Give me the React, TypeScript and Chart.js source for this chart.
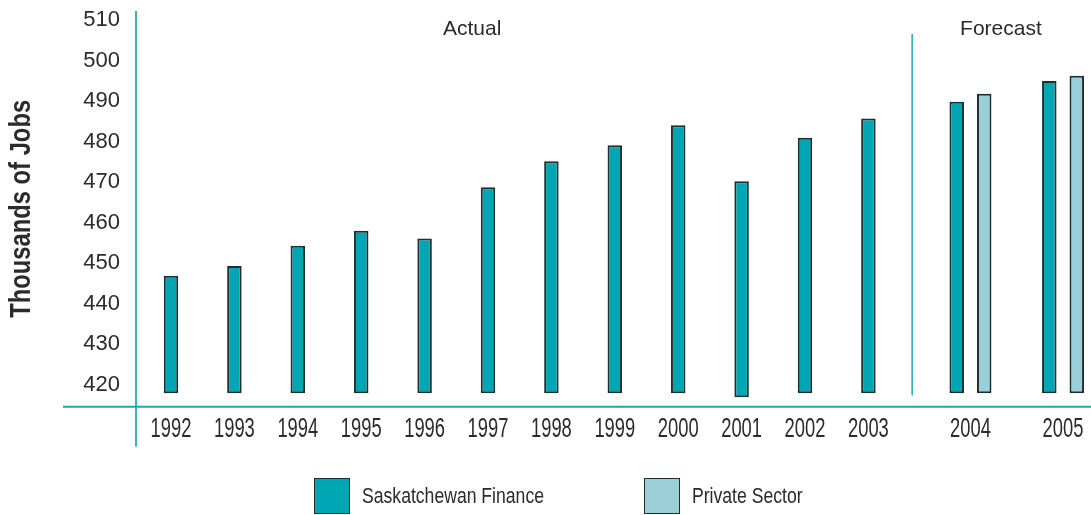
import React, { useEffect, useRef } from "react";
import { Chart, registerables } from "chart.js";

Chart.register(...registerables);

// ---------- data ----------
const years = ["1992", "1993", "1994", "1995", "1996", "1997", "1998", "1999", "2000", "2001", "2002", "2003", "2004", "2005"];
const saskFinance = [446.9, 449.3, 454.3, 458.0, 456.1, 468.7, 475.1, 479.1, 484.0, 470.2, 480.9, 485.7, 489.8, 494.9];
const saskFinanceBase = [417.9, 417.9, 417.9, 417.9, 417.9, 417.9, 417.9, 417.9, 417.9, 416.9, 417.9, 417.9, 417.9, 417.9];
const privateSector = [null, null, null, null, null, null, null, null, null, null, null, null, 491.8, 496.2];
const privateSectorBase = [null, null, null, null, null, null, null, null, null, null, null, null, 417.9, 417.9];
const yTickValues = [420, 430, 440, 450, 460, 470, 480, 490, 500, 510];
const seriesNames = ["Saskatchewan Finance", "Private Sector"];
const periodLabels = ["Actual", "Forecast"];

// ---------- layout (data units on the axes) ----------
const FORECAST_START = 12.61;
const FORECAST_STEP = 1.46;
const slotOf = (i: number) => (i < 12 ? i : FORECAST_START + (i - 12) * FORECAST_STEP);
const SEPARATOR_X = 11.69;
const PERIOD_X = [4.75, 13.09];

const TEAL = "#00A6B3";
const LIGHT = "#9BCFD8";
const EDGE = "#1f2f30";
const AXIS = "#3fb3bd";
const TEXT = "#2b2b2b";
const FONT = "'Liberation Sans', Arial, sans-serif";

// horizontally condense the text a scale draws (the reference uses a condensed face)
function squeeze(scale: any, name: string, factor: number) {
  const key = "__sq_" + name;
  if (scale[key]) return;
  const orig = scale[name];
  scale[name] = function (...args: any[]) {
    const ctx = this.ctx;
    const fill = ctx.fillText;
    ctx.fillText = function (t: string, x: number, y: number, mw?: number) {
      const w = ctx.measureText(t).width * factor;
      return fill.call(ctx, t, x, y, mw === undefined ? w : Math.min(w, mw));
    };
    try {
      return orig.apply(this, args);
    } finally {
      ctx.fillText = fill;
    }
  };
  scale[key] = true;
}

const decorations = {
  id: "decorations",
  afterDatasetsDraw(chart: any) {
    const { ctx, chartArea, scales } = chart;
    const x = scales.x;
    const y = scales.y;
    ctx.save();
    // axis lines
    ctx.strokeStyle = AXIS;
    ctx.lineWidth = 2;
    ctx.beginPath();
    ctx.moveTo(chartArea.left, chartArea.top);
    ctx.lineTo(chartArea.left, chartArea.bottom + 40);
    ctx.stroke();
    ctx.strokeStyle = "#1ea7b2";
    ctx.beginPath();
    ctx.moveTo(chartArea.left - 73, chartArea.bottom);
    ctx.lineTo(chartArea.right, chartArea.bottom);
    ctx.stroke();
    // separator between actual and forecast
    ctx.lineWidth = 1.5;
    const sx = x.getPixelForValue(SEPARATOR_X);
    ctx.beginPath();
    ctx.moveTo(sx, y.getPixelForValue(506.5));
    ctx.lineTo(sx, y.getPixelForValue(417.4));
    ctx.stroke();
    // period labels
    ctx.fillStyle = TEXT;
    ctx.font = `21px ${FONT}`;
    ctx.textAlign = "center";
    ctx.textBaseline = "middle";
    periodLabels.forEach((t, i) => {
      ctx.fillText(t, x.getPixelForValue(PERIOD_X[i]), y.getPixelForValue(507.6));
    });
    ctx.restore();
  },
};

export default function App() {
  const ref = useRef<HTMLCanvasElement | null>(null);

  useEffect(() => {
    document.body.style.margin = "0";
    if (!ref.current) return;
    const chart = new Chart(ref.current, {
      type: "bar",
      data: {
        datasets: [
          {
            label: seriesNames[0],
            data: years.map((_, i) => ({ x: slotOf(i), y: [saskFinanceBase[i], saskFinance[i]] })) as any,
            backgroundColor: TEAL,
            borderColor: EDGE,
            borderWidth: 2,
            borderSkipped: false,
          },
          {
            label: seriesNames[1],
            data: years.map((_, i) => ({
              x: slotOf(i),
              y: privateSector[i] == null ? null : [privateSectorBase[i], privateSector[i]],
            })) as any,
            backgroundColor: LIGHT,
            borderColor: EDGE,
            borderWidth: 2,
            borderSkipped: false,
          },
        ],
      },
      options: {
        animation: false,
        responsive: false,
        devicePixelRatio: 1,
        layout: { padding: { top: 11, right: 0, left: 0, bottom: 0 } },
        datasets: {
          bar: {
            skipNull: true,
            categoryPercentage: 0.8675,
            barPercentage: 1,
            maxBarThickness: 14.5,
          },
        } as any,
        plugins: {
          legend: { display: false },
          tooltip: { enabled: false },
        },
        scales: {
          x: {
            type: "linear",
            offset: false,
            min: -0.552,
            max: 14.511,
            grid: { display: false, drawTicks: false, offset: false },
            border: { display: false },
            afterBuildTicks: (s: any) => {
              s.ticks = years.map((_, i) => ({ value: slotOf(i) }));
            },
            afterFit: (s: any) => {
              s.height = 108.3;
              s.paddingLeft = 0;
              s.paddingRight = 0;
              squeeze(s, "drawLabels", 0.68);
            },
            ticks: {
              autoSkip: false,
              maxRotation: 0,
              padding: 7,
              color: TEXT,
              font: { family: FONT, size: 27 },
              callback: (_v: any, i: number) => years[i],
            },
          },
          y: {
            type: "linear",
            min: 414.57,
            max: 512.2,
            grid: { display: false, drawTicks: false },
            border: { display: false },
            afterBuildTicks: (s: any) => {
              s.ticks = yTickValues.map((v) => ({ value: v }));
            },
            afterFit: (s: any) => {
              s.width = 136;
              s.paddingTop = 0;
              s.paddingBottom = 0;
              squeeze(s, "drawTitle", 0.82);
            },
            ticks: {
              padding: 16,
              color: TEXT,
              font: { family: FONT, size: 22 },
            },
            title: {
              display: true,
              text: "Thousands of Jobs",
              color: TEXT,
              font: { family: FONT, size: 29, weight: "bold" },
              padding: { top: 5, bottom: 0 },
            },
          },
        },
      },
      plugins: [decorations],
    });
    return () => chart.destroy();
  }, []);

  const legendItem = (i: number, left: number, color: string) => (
    <div style={{ position: "absolute", left, top: 478, display: "flex", alignItems: "center", height: 36 }}>
      <div style={{ width: 36, height: 36, boxSizing: "border-box", background: color, border: `1.5px solid ${EDGE}` }} />
      <span
        style={{
          marginLeft: 12,
          font: `22px ${FONT}`,
          color: TEXT,
          whiteSpace: "nowrap",
          display: "inline-block",
          transform: "scaleX(0.8)",
          transformOrigin: "left center",
        }}
      >
        {seriesNames[i]}
      </span>
    </div>
  );

  return (
    <div style={{ position: "relative", width: 1091, height: 515, background: "#fff" }}>
      <canvas ref={ref} width={1091} height={515} style={{ display: "block", width: 1091, height: 515 }} />
      {legendItem(0, 314, TEAL)}
      {legendItem(1, 644, LIGHT)}
    </div>
  );
}
